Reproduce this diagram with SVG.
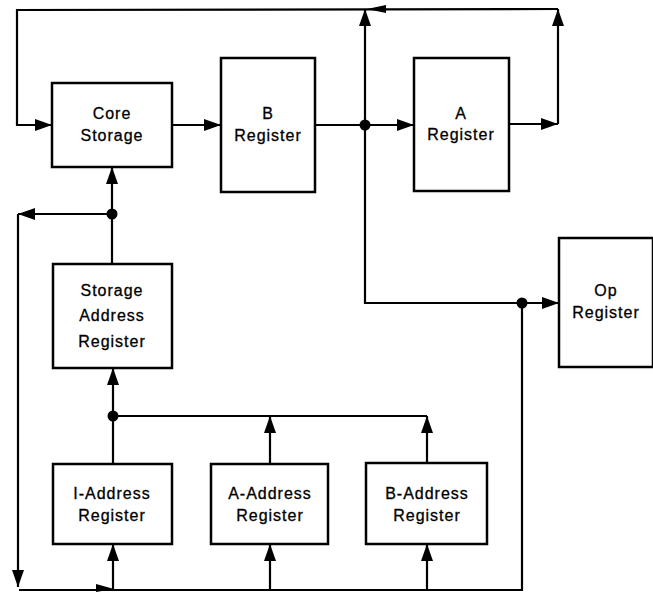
<svg xmlns="http://www.w3.org/2000/svg" width="653" height="592" viewBox="0 0 653 592">
<defs>
<marker id="arr" markerUnits="userSpaceOnUse" markerWidth="18" markerHeight="14" refX="17" refY="6" orient="auto">
<path d="M0,0 L17,6 L0,12 Z" fill="#000"/>
</marker>
<style>
.box{fill:#fff;stroke:#000;stroke-width:2.5}
.ln{fill:none;stroke:#000;stroke-width:2.2}
.t{font-family:"Liberation Sans",Arial,sans-serif;font-size:16px;letter-spacing:1px;text-anchor:middle;fill:#000;stroke:#000;stroke-width:0.3}
</style>
</defs>
<rect width="653" height="592" fill="#fff"/>
<g id="connectors">
<path class="ln" d="M558,9 L17,10 L17,125 L52,125" marker-end="url(#arr)"/>
<polygon points="367,9 386,5 386,13" fill="#000"/>
<path class="ln" d="M172,125 L221,125" marker-end="url(#arr)"/>
<path class="ln" d="M315,125 L414,125" marker-end="url(#arr)"/>
<path class="ln" d="M365,125 L365,9" marker-end="url(#arr)"/>
<path class="ln" d="M509,124 L558,124" marker-end="url(#arr)"/>
<path class="ln" d="M558,124 L558,9" marker-end="url(#arr)"/>
<path class="ln" d="M365,125 L365,303 L559,303" marker-end="url(#arr)"/>
<path class="ln" d="M522,303 L522,590 L19,590"/>
<polygon points="114,589 96,584 96,592" fill="#000"/>
<path class="ln" d="M113,590 L113,544" marker-end="url(#arr)"/>
<path class="ln" d="M270,590 L270,544" marker-end="url(#arr)"/>
<path class="ln" d="M427,590 L427,544" marker-end="url(#arr)"/>
<path class="ln" d="M113,464 L113,416"/>
<path class="ln" d="M113,416 L113,368" marker-end="url(#arr)"/>
<path class="ln" d="M113,416 L427,416"/>
<path class="ln" d="M270,463 L270,416" marker-end="url(#arr)"/>
<path class="ln" d="M427,463 L427,416" marker-end="url(#arr)"/>
<path class="ln" d="M112,264 L112,167" marker-end="url(#arr)"/>
<path class="ln" d="M112,214 L18,214" marker-end="url(#arr)"/>
<path class="ln" d="M18,214 L18,587" marker-end="url(#arr)"/>
<circle cx="112" cy="214" r="5.5"/>
<circle cx="113" cy="416" r="5.5"/>
<circle cx="365" cy="125" r="5.5"/>
<circle cx="522" cy="303" r="5.5"/>
</g>
<g id="core-storage">
<rect class="box" x="52" y="83" width="120" height="84"/>
<text class="t" x="112" y="119">Core</text>
<text class="t" x="112" y="141">Storage</text>
</g>
<g id="b-register">
<rect class="box" x="221" y="58" width="94" height="134"/>
<text class="t" x="268" y="119">B</text>
<text class="t" x="268" y="141">Register</text>
</g>
<g id="a-register">
<rect class="box" x="414" y="58" width="95" height="133"/>
<text class="t" x="461" y="119">A</text>
<text class="t" x="461" y="140">Register</text>
</g>
<g id="op-register">
<rect class="box" x="559" y="238" width="94" height="129"/>
<text class="t" x="606" y="296">Op</text>
<text class="t" x="606" y="318">Register</text>
</g>
<g id="storage-address-register">
<rect class="box" x="53" y="264" width="119" height="104"/>
<text class="t" x="112" y="296">Storage</text>
<text class="t" x="112" y="321">Address</text>
<text class="t" x="112" y="347">Register</text>
</g>
<g id="i-address-register">
<rect class="box" x="53" y="464" width="119" height="80"/>
<text class="t" x="112" y="499">I-Address</text>
<text class="t" x="112" y="521">Register</text>
</g>
<g id="a-address-register">
<rect class="box" x="211" y="464" width="117" height="80"/>
<text class="t" x="270" y="499">A-Address</text>
<text class="t" x="270" y="521">Register</text>
</g>
<g id="b-address-register">
<rect class="box" x="366" y="463" width="121" height="81"/>
<text class="t" x="427" y="499">B-Address</text>
<text class="t" x="427" y="521">Register</text>
</g>
</svg>
